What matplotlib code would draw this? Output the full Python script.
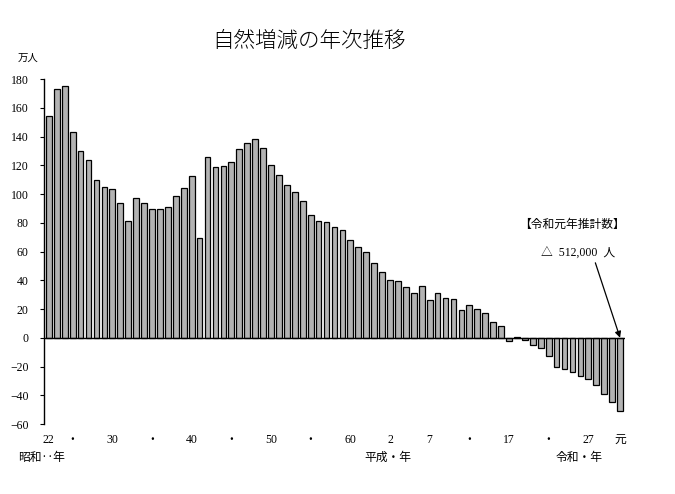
import matplotlib
matplotlib.use("Agg")
import matplotlib.pyplot as plt
import numpy as np

plt.rcParams['font.family'] = ['Liberation Serif', 'Noto Sans CJK JP', 'DejaVu Sans']

# 自然増減（万人）1947(昭和22)〜2019(令和元)
years = list(range(1947, 2020))
increase = [154.1, 173.1, 175.1, 143.3, 129.9, 124.0, 109.5, 104.8, 103.7, 94.1,
            81.4, 96.9, 93.6, 89.9, 89.4, 90.8, 98.9, 104.4, 112.3, 69.1,
            126.1, 118.5, 119.6, 122.1, 131.6, 135.5, 138.3, 131.9, 119.9, 112.9,
            106.5, 101.3, 95.3, 85.4, 80.9, 80.4, 76.9, 75.0, 67.9, 63.2,
            59.5, 52.1, 45.8, 40.1, 39.3, 35.2, 31.0, 36.2, 26.5, 31.0,
            27.8, 26.7, 19.6, 22.9, 20.0, 17.1, 10.9, 8.2, -2.1, 0.8,
            -1.9, -5.1, -7.2, -12.6, -20.2, -21.9, -23.9, -26.9, -28.5, -33.1,
            -39.4, -44.4, -51.2]

tick_years = [1947, 1950, 1955, 1960, 1965, 1970, 1975, 1980, 1985, 1990,
              1995, 2000, 2005, 2010, 2015, 2019]
tick_labels = ['22', '・', '30', '・', '40', '・', '50', '・', '60', '2',
               '7', '・', '17', '・', '27', '元']

x = np.arange(len(years))

fig = plt.figure(figsize=(6.75, 4.94), dpi=100)
ax = fig.add_axes([0.065, 0.1417, 0.861, 0.6983])

ax.bar(x, increase, width=0.72, color='#b3b3b3', edgecolor='black', linewidth=0.9, zorder=2)
ax.axhline(0, color='black', linewidth=1.0, zorder=3)

ax.set_xlim(-0.63, len(years) - 1 + 0.63)
ax.set_ylim(-60, 180)
ax.set_yticks(np.arange(-60, 181, 20))
ax.tick_params(axis='y', direction='out', length=3, labelsize=8.5, pad=8)

pos = [years.index(y) for y in tick_years]
ax.set_xticks(pos)
ax.set_xticklabels(tick_labels, fontsize=8.5)
ax.tick_params(axis='x', length=0, pad=7)

for s in ['top', 'right', 'bottom']:
    ax.spines[s].set_visible(False)
ax.spines['left'].set_linewidth(1.0)

fig.text(0.458, 0.915, '自然増減の年次推移', fontsize=15.5, fontweight='light',
         ha='center', va='center')
fig.text(0.042, 0.882, '万人', fontsize=7.5, ha='center', va='center')

fig.text(0.027, 0.073, '昭和‥年', fontsize=8.5, ha='left', va='center')
fig.text(0.54, 0.073, '平成・年', fontsize=8.5, ha='left', va='center')
fig.text(0.823, 0.073, '令和・年', fontsize=8.5, ha='left', va='center')

fig.text(0.848, 0.545, '【令和元年推計数】', fontsize=8.5, ha='center', va='center')
fig.text(0.857, 0.487, '△  512,000  人', fontsize=8.5, ha='center', va='center')
ax.annotate('', xy=(x[-1], 0), xycoords='data',
            xytext=(0.882, 0.468), textcoords='figure fraction',
            arrowprops=dict(arrowstyle='-|>', color='black', lw=0.9,
                            mutation_scale=9, shrinkA=0, shrinkB=0))

fig.savefig('out.png', dpi=100)
